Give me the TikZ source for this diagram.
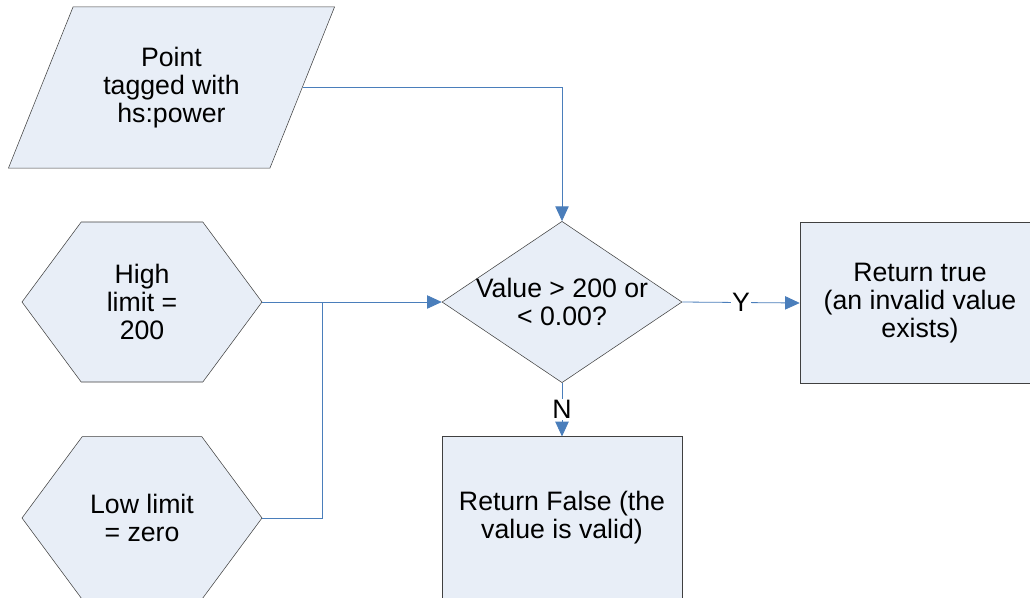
\documentclass[tikz,border=0pt]{standalone}
\usepackage{fontspec}
\setmainfont{Liberation Sans}
\usetikzlibrary{shapes.geometric,shapes.symbols,arrows.meta}
\definecolor{boxfill}{HTML}{E8EEF7}
\definecolor{boxline}{HTML}{404040}
\definecolor{flow}{HTML}{4A7EBB}
\tikzset{
  shapebase/.style = {draw=boxline, fill=boxfill, inner sep=0, font=\fontsize{20}{21}\selectfont, align=center},
  datain/.style    = {shapebase, trapezium, trapezium left angle=61, trapezium right angle=119,
                      trapezium stretches=true, minimum width=245pt, minimum height=121pt},
  prep/.style      = {shapebase, signal, signal to=west and east, signal pointer angle=107,
                      minimum width=180pt, minimum height=120pt},
  decision/.style  = {shapebase, diamond, minimum width=180pt, minimum height=121pt},
  process/.style   = {shapebase, rectangle, minimum width=180pt, minimum height=121pt},
  txt/.style       = {font=\fontsize{20}{21}\selectfont, align=center, inner sep=0},
  flowline/.style  = {draw=flow, semithick},
  flowarrow/.style = {flowline, -{Triangle[length=11pt,width=10pt]}},
  yn/.style        = {txt, fill=white, inner sep=1pt}
}

\begin{document}
\begin{tikzpicture}[x=0.75pt, y=-0.75pt]
  \clip (0,0) rectangle (1030,597);
  \fill[white] (0,0) rectangle (1030,597);
  % inputs
  \node[datain] (pt) at (171.5,87.5) {Point\\tagged with\\hs:power};
  \node[prep]   (hi) at (142,302) {High\\limit =\\200};
  \node[prep, minimum height=122pt] (lo) at (142,518) {Low limit\\= zero};
  % test and results
  \node[decision] (dec) at (562,302) {};
  \node[txt] (dectxt) at (dec) {Value > 200 or\\< 0.00?};
  \node[process] (yes) at (920,303) {Return true\\(an invalid value\\exists)};
  \node[process, minimum height=122pt] (no) at (562,518) {Return False (the\\value is valid)};
  \coordinate (jn) at (322,302);
  % flow
  \draw[flowarrow] (pt.east) -| (dec.north);
  \draw[flowline]  (hi.east) -- (jn);
  \draw[flowline]  (lo.east) -| (jn);
  \draw[flowarrow] (jn) -- (dec.west);
  \draw[flowarrow] (dec.east) -- node[yn] (ylab) {Y} (yes.west);
  \draw[flowarrow] (dec.south) -- node[yn] (nlab) {N} (no.north);
\end{tikzpicture}
\end{document}
